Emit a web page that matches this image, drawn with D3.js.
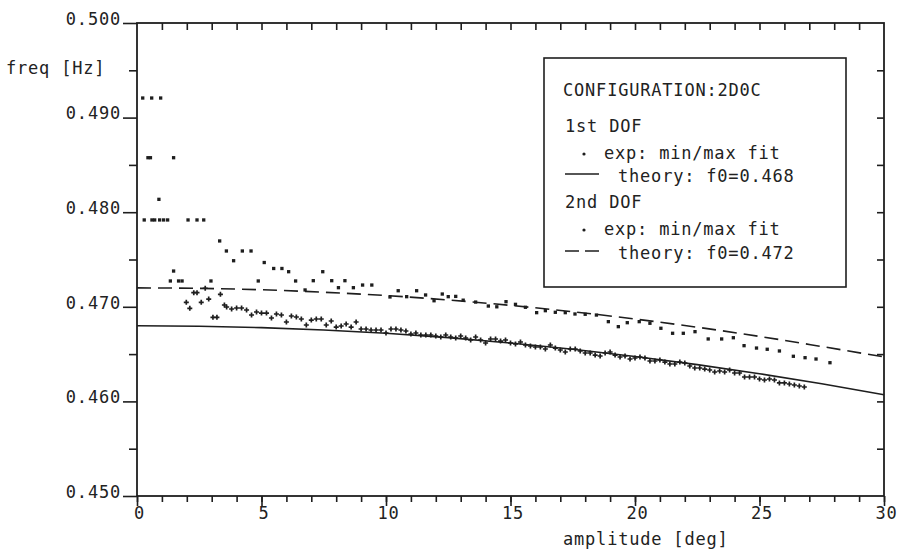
<!DOCTYPE html>
<html>
<head>
<meta charset="utf-8">
<script src="https://cdn.jsdelivr.net/npm/d3@7"></script>
<style>
  body { margin: 0; background: #fff; }
  svg text { font-family: "DejaVu Sans Mono", monospace; font-size: 17px; letter-spacing: 0.8px; fill: #222; }
</style>
</head>
<body>
<div id="chart"></div>
<script>
// theory curves
var ampTheory = [0, 2.5, 5, 7.5, 10, 12.5, 15, 17.5, 20, 22.5, 25, 27.5, 30];
var freqTheory1 = [0.4680, 0.46795, 0.4678, 0.46755, 0.4672, 0.46674, 0.46617, 0.46551, 0.46475, 0.46389, 0.46293, 0.46186, 0.4607];
var freqTheory2 = [0.4720, 0.47195, 0.4718, 0.47154, 0.47119, 0.47072, 0.47015, 0.46948, 0.46871, 0.46784, 0.46687, 0.46580, 0.46470];

// 1st DOF, exp min/max fit
var ampDof1 = [1.98, 2.12, 2.28, 2.41, 2.58, 2.74, 2.88, 3.05, 3.21, 3.35, 3.51,
  3.6, 3.8, 4.0, 4.2, 4.4, 4.6, 4.8, 5.0, 5.2, 5.4, 5.6, 5.8, 6.0, 6.2, 6.4, 6.6, 6.8, 7.0, 7.2, 7.4, 7.6, 7.8,
  8.0, 8.2, 8.4, 8.6, 8.8, 9.0, 9.2, 9.4, 9.6, 9.8, 10.0, 10.2, 10.4, 10.6, 10.8, 11.0, 11.2, 11.4, 11.6, 11.8,
  12.0, 12.2, 12.4, 12.6, 12.8, 13.0, 13.2, 13.4, 13.6, 13.8, 14.0, 14.2, 14.4, 14.6, 14.8, 15.0, 15.2, 15.4,
  15.6, 15.8, 16.0, 16.2, 16.4, 16.6, 16.8, 17.0, 17.2, 17.4, 17.6, 17.8, 18.0, 18.2, 18.4, 18.6, 18.8, 19.0,
  19.2, 19.4, 19.6, 19.8, 20.0, 20.2, 20.4, 20.6, 20.8, 21.0, 21.2, 21.4, 21.6, 21.8, 22.0, 22.2, 22.4, 22.6,
  22.8, 23.0, 23.2, 23.4, 23.6, 23.8, 24.0, 24.2, 24.4, 24.6, 24.8, 25.0, 25.2, 25.4, 25.6, 25.8, 26.0, 26.2,
  26.4, 26.6, 26.8];
var freqDof1 = [0.47047, 0.46984, 0.47149, 0.47149, 0.47047, 0.47196, 0.47082, 0.46889, 0.46889, 0.47132, 0.47019,
  0.46998, 0.46977, 0.46987, 0.46987, 0.46966, 0.46913, 0.46945, 0.46934, 0.46934, 0.46882, 0.46924, 0.46913, 0.46839, 0.46903, 0.46892, 0.46871, 0.46808, 0.46860, 0.46871, 0.46871, 0.46808, 0.46850,
  0.46786, 0.46797, 0.46818, 0.46786, 0.46839, 0.46765, 0.46765, 0.46755, 0.46755, 0.46755, 0.46723, 0.46765, 0.46765, 0.46755, 0.46744, 0.46712, 0.46723, 0.46702, 0.46702, 0.46702,
  0.46691, 0.46681, 0.46702, 0.46681, 0.46670, 0.46691, 0.46670, 0.46649, 0.46681, 0.46649, 0.46617, 0.46660, 0.46660, 0.46638, 0.46649, 0.46617, 0.46607, 0.46628,
  0.46596, 0.46586, 0.46575, 0.46575, 0.46554, 0.46596, 0.46564, 0.46543, 0.46522, 0.46554, 0.46554, 0.46533, 0.46512, 0.46512, 0.46490, 0.46480, 0.46512, 0.46522,
  0.46490, 0.46469, 0.46480, 0.46448, 0.46459, 0.46469, 0.46459, 0.46427, 0.46427, 0.46438, 0.46416, 0.46395, 0.46395, 0.46416, 0.46406, 0.46374, 0.46353, 0.46353,
  0.46342, 0.46332, 0.46311, 0.46321, 0.46311, 0.46332, 0.46300, 0.46300, 0.46258, 0.46258, 0.46258, 0.46237, 0.46226, 0.46237, 0.46226, 0.46195, 0.46195, 0.46184,
  0.46173, 0.46163, 0.46152];

// 2nd DOF, exp min/max fit
var ampDof2 = [0.23, 0.59, 0.95, 0.44, 0.54, 1.47, 0.88, 0.29, 0.60, 0.71, 0.91, 1.07, 1.23, 2.05, 2.41, 2.68,
  1.47, 1.34, 1.67, 1.81, 2.97, 3.32, 3.59, 3.88, 4.23, 4.58, 4.87, 5.11, 5.49, 5.82, 6.09, 6.37, 6.75, 7.08,
  7.46, 7.82, 8.09, 8.35, 8.69, 9.06, 9.43, 10.16, 10.49, 10.83, 11.23, 11.59, 11.93, 12.26, 12.5, 12.8, 13.1,
  13.6, 14.11, 14.45, 14.82, 15.2, 15.6, 16.05, 16.4, 16.8, 17.2, 17.59, 18.0, 18.45, 18.93, 19.33, 19.69,
  20.17, 20.6, 21.04, 21.51, 21.94, 22.41, 22.94, 23.48, 23.95, 24.38, 24.88, 25.31, 25.80, 26.36, 26.83,
  27.27, 27.83];
var freqDof2 = [0.49207, 0.49207, 0.49207, 0.48576, 0.48576, 0.48576, 0.48136, 0.47918, 0.47918, 0.47918, 0.47918, 0.47918, 0.47918, 0.47918, 0.47918, 0.47918,
  0.47378, 0.47273, 0.47273, 0.47273, 0.47273, 0.47696, 0.47590, 0.47487, 0.47590, 0.47590, 0.47273, 0.47468, 0.47405, 0.47405, 0.47371, 0.47273, 0.47178, 0.47276,
  0.47371, 0.47276, 0.47202, 0.47276, 0.47202, 0.47230, 0.47230, 0.47104, 0.47170, 0.47107, 0.47170, 0.47125, 0.47064, 0.47135, 0.47107, 0.47110, 0.47070,
  0.47050, 0.47008, 0.47000, 0.47054, 0.47026, 0.46995, 0.46938, 0.46959, 0.46942, 0.46938, 0.46924, 0.46921, 0.46913, 0.46843, 0.46790, 0.46832,
  0.46843, 0.46826, 0.46773, 0.46720, 0.46720, 0.46737, 0.46660, 0.46660, 0.46673, 0.46589, 0.46564, 0.46551, 0.46533, 0.46477, 0.46462,
  0.46448, 0.46409];

var xTicks = [0, 5, 10, 15, 20, 25, 30];
var yTicks = [0.45, 0.46, 0.47, 0.48, 0.49, 0.50];
var legendLines = ["CONFIGURATION:2D0C", "1st DOF", "exp: min/max fit", "theory: f0=0.468", "2nd DOF", "exp: min/max fit", "theory: f0=0.472"];

var w = 902, h = 554;
var ink = "#1e1e1e";

var svg = d3.select("#chart").append("svg")
    .attr("width", w)
    .attr("height", h);

var x = d3.scaleLinear().domain([0, 30]).range([137, 884]);
var y = d3.scaleLinear().domain([0.45, 0.50]).range([496, 23]);

/* axes */
function styleAxis(g) {
    g.select(".domain").remove();
    g.selectAll("line").attr("stroke", ink).attr("stroke-width", 1.6);
}

// left: outward ticks with labels
svg.append("g")
    .attr("transform", "translate(" + x(0) + ",0)")
    .call(d3.axisLeft(y).tickValues(d3.range(0.455, 0.5, 0.01)).tickSize(8).tickFormat(""))
    .call(styleAxis);
svg.append("g")
    .attr("transform", "translate(" + x(0) + ",0)")
    .call(d3.axisLeft(y).tickValues(yTicks).tickSize(14).tickPadding(2).tickFormat(d3.format(".3f")))
    .call(styleAxis)
    .selectAll("text").attr("dy", "0.08em");

// right: inward ticks
svg.append("g")
    .attr("transform", "translate(" + x(30) + ",0)")
    .call(d3.axisLeft(y).tickValues(d3.range(0.455, 0.5, 0.005)).tickSize(7).tickFormat(""))
    .call(styleAxis);

// bottom: outward ticks with labels
svg.append("g")
    .attr("transform", "translate(0," + y(0.45) + ")")
    .call(d3.axisBottom(x).tickValues(d3.range(0, 31, 1)).tickSize(6).tickFormat(""))
    .call(styleAxis);
svg.append("g")
    .attr("transform", "translate(0," + y(0.45) + ")")
    .call(d3.axisBottom(x).tickValues(xTicks).tickSize(10).tickFormat(d3.format("d")))
    .call(styleAxis)
    .selectAll("text").attr("y", 23).attr("dy", 0).attr("dx", 2);

// top: inward ticks
svg.append("g")
    .attr("transform", "translate(0," + y(0.5) + ")")
    .call(d3.axisBottom(x).tickValues(d3.range(1, 30, 1)).tickSize(7).tickFormat(""))
    .call(styleAxis);

// frame
svg.append("rect")
    .attr("x", x(0)).attr("y", y(0.5))
    .attr("width", x(30) - x(0)).attr("height", y(0.45) - y(0.5))
    .attr("fill", "none").attr("stroke", ink).attr("stroke-width", 1.8);

svg.append("text").text("freq [Hz]").attr("x", 6).attr("y", 74);
svg.append("text").text("amplitude [deg]").attr("x", 563).attr("y", 545);

/* theory curves */
var line = d3.line().curve(d3.curveMonotoneX)
    .x(function (d) { return x(d[0]); })
    .y(function (d) { return y(d[1]); });

svg.append("path")
    .datum(d3.zip(ampTheory, freqTheory1))
    .attr("d", line)
    .attr("fill", "none").attr("stroke", ink).attr("stroke-width", 1.6);

svg.append("path")
    .datum(d3.zip(ampTheory, freqTheory2))
    .attr("d", line)
    .attr("fill", "none").attr("stroke", ink).attr("stroke-width", 1.6)
    .attr("stroke-dasharray", "14,7");

/* measured points */
svg.selectAll("path.dof1")
    .data(d3.zip(ampDof1, freqDof1))
    .enter()
    .append("path")
    .attr("class", "dof1")
    .attr("d", d3.symbol().type(d3.symbolCross).size(14))
    .attr("transform", function (d) { return "translate(" + x(d[0]) + "," + y(d[1]) + ")"; })
    .attr("fill", ink);

svg.selectAll("path.dof2")
    .data(d3.zip(ampDof2, freqDof2))
    .enter()
    .append("path")
    .attr("class", "dof2")
    .attr("d", d3.symbol().type(d3.symbolSquare).size(11))
    .attr("transform", function (d) { return "translate(" + x(d[0]) + "," + y(d[1]) + ")"; })
    .attr("fill", ink);

/* legend */
var lg = svg.append("g");
lg.append("rect")
    .attr("x", 544).attr("y", 58).attr("width", 302).attr("height", 229)
    .attr("fill", "#fff").attr("stroke", ink).attr("stroke-width", 1.6);

var rows = [
    { tx: 563, ty: 96 },
    { tx: 565, ty: 132 },
    { tx: 604, ty: 159, mark: "dot" },
    { tx: 618, ty: 182, mark: "solid" },
    { tx: 565, ty: 208 },
    { tx: 604, ty: 235, mark: "dot" },
    { tx: 618, ty: 259, mark: "dash" }
];
rows.forEach(function (r, i) {
    lg.append("text").text(legendLines[i]).attr("x", r.tx).attr("y", r.ty);
    if (r.mark === "dot") {
        lg.append("circle").attr("cx", 584).attr("cy", r.ty - 5).attr("r", 1.6).attr("fill", ink);
    } else if (r.mark) {
        lg.append("line")
            .attr("x1", 565).attr("x2", 599)
            .attr("y1", r.ty - 8).attr("y2", r.ty - 8)
            .attr("stroke", ink).attr("stroke-width", 1.6)
            .attr("stroke-dasharray", r.mark === "dash" ? "14,6" : null);
    }
});
</script>
</body>
</html>
